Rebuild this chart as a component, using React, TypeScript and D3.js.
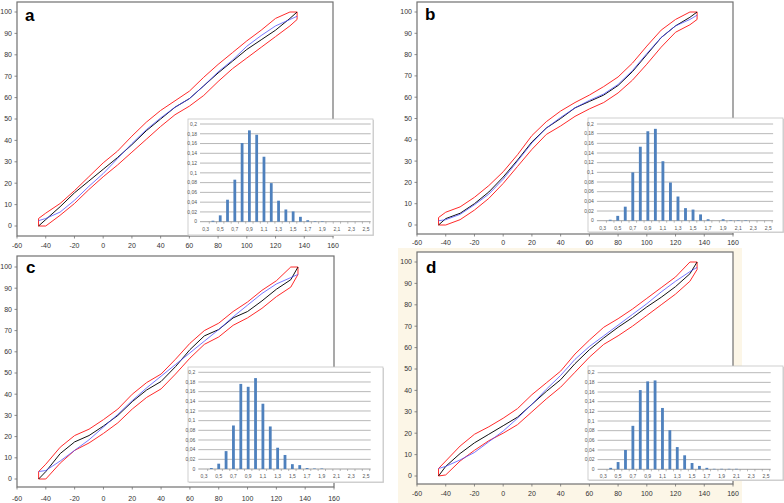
import React from 'react';
import * as d3 from 'd3';

const XS = [-45, -40, -30, -20, -10, 0, 10, 20, 30, 40, 50, 60, 70, 80, 90, 100, 110, 120, 130, 135];
const X_TICKS = [-60, -40, -20, 0, 20, 40, 60, 80, 100, 120, 140, 160];
const Y_TICKS = [0, 10, 20, 30, 40, 50, 60, 70, 80, 90, 100];

const A_BLACK = [0, 3, 9, 15.5, 21, 26.5, 32, 38, 44.5, 50, 55.5, 59.5, 65.5, 71.5, 77, 82.5, 87, 91.5, 97, 100];
const A_BLUE = [2.5, 3.5, 6.5, 12, 18.5, 24.5, 31.5, 38.5, 45, 50.5, 55.5, 59.5, 65.5, 72, 77.5, 84, 89, 93.5, 96.5, 98];
const A_RED_UP = [3.5, 6, 10.5, 16.5, 23, 29.5, 35, 42, 48.5, 54, 58.5, 63, 69.5, 75.5, 81, 86.5, 91.5, 97, 100, 100];
const A_RED_LO = [0, 0, 5, 10.5, 17, 23, 28.5, 34.5, 40.5, 46.5, 52, 56, 61, 67.5, 73.5, 78.5, 83.5, 88.5, 93.5, 96.5];

const B_BLACK = [0, 3, 5.5, 10, 15.5, 22.5, 30.5, 39, 45.5, 50, 55, 58, 61, 65.5, 72, 80, 88, 93.5, 97.5, 100];
const B_BLUE = [2, 2.5, 5, 9.5, 14.5, 21.5, 30, 38.5, 45.5, 50.5, 55, 58.5, 61.5, 66, 72.5, 80.5, 88, 93.5, 96.5, 98.5];
const B_RED_UP = [3.5, 6, 8.5, 13, 18.5, 25, 33, 42, 48.5, 53.5, 57.5, 61, 65, 69.5, 76, 84, 91.5, 96.5, 100, 100];
const B_RED_LO = [0, 0, 2.5, 7, 12.5, 19.5, 27.5, 35.5, 42.5, 46.5, 51, 54.5, 57.5, 62, 68, 75.5, 83.5, 90.5, 94, 96.5];

const C_BLACK = [0, 3.5, 12, 17.5, 20.5, 25, 30, 36.5, 42, 46, 53, 61, 67.5, 70.5, 76, 79, 84, 89.5, 94, 100];
const C_BLUE = [3.5, 4, 8.5, 13.5, 18.5, 24.5, 30.5, 37, 43, 48.5, 54, 59.5, 65, 70.5, 76.5, 82, 87.5, 92, 95, 96.5];
const C_RED_UP = [3.5, 7, 15, 20.5, 23.5, 28, 33, 40, 45.5, 49.5, 56.5, 64, 70, 73.5, 79, 83.5, 89, 93.5, 100, 100];
const C_RED_LO = [0, 0, 7.5, 13.5, 17, 21.5, 26.5, 33, 38.5, 42.5, 49.5, 57, 63.5, 67, 72.5, 76, 80.5, 86, 90.5, 96.5];

const D_BLACK = [0, 4.5, 10.5, 15.5, 19.5, 23.5, 27.5, 33.5, 39.5, 45, 52.5, 59, 64.5, 69.5, 74, 79, 83.5, 88.5, 94.5, 100];
const D_BLUE = [3.5, 4.5, 7.5, 11, 16, 21, 27, 33.5, 40.5, 47, 54.5, 60.5, 65.5, 70.5, 75.5, 80.5, 86, 91, 95.5, 97.5];
const D_RED_UP = [3.5, 7, 14, 19.5, 23, 27, 31.5, 38, 43.5, 49, 57, 63.5, 69.5, 73.5, 78, 83, 88, 93, 100, 100];
const D_RED_LO = [0, 0.5, 7, 12, 16.5, 20, 24, 30, 36, 41.5, 48.5, 55.5, 61.5, 65.5, 70, 75, 80, 85, 91, 96.5];

const BIN_LABELS = ['0,3', '0,4', '0,5', '0,6', '0,7', '0,8', '0,9', '1', '1,1', '1,2', '1,3', '1,4', '1,5', '1,6', '1,7', '1,8', '1,9', '2', '2,1', '2,2', '2,3', '2,4', '2,5'];
const HIST_TICKS = [0, 0.02, 0.04, 0.06, 0.08, 0.1, 0.12, 0.14, 0.16, 0.18, 0.2];
const HIST_TICK_LABELS = ['0', '0,02', '0,04', '0,06', '0,08', '0,1', '0,12', '0,14', '0,16', '0,18', '0,2'];

const A_HIST = [0, 0.002, 0.013, 0.045, 0.086, 0.161, 0.187, 0.178, 0.133, 0.079, 0.043, 0.025, 0.021, 0.01, 0.003, 0.001, 0.001, 0, 0, 0, 0, 0, 0];
const B_HIST = [0, 0.002, 0.01, 0.029, 0.1, 0.153, 0.185, 0.19, 0.123, 0.079, 0.05, 0.026, 0.023, 0.013, 0.003, 0, 0.003, 0.001, 0.001, 0.001, 0, 0, 0];
const C_HIST = [0, 0.002, 0.011, 0.037, 0.09, 0.176, 0.17, 0.188, 0.135, 0.088, 0.044, 0.029, 0.01, 0.008, 0.002, 0.001, 0.001, 0, 0, 0, 0, 0, 0];
const D_HIST = [0, 0.003, 0.015, 0.04, 0.09, 0.164, 0.182, 0.184, 0.127, 0.081, 0.046, 0.029, 0.013, 0.007, 0.003, 0.001, 0.001, 0.001, 0.001, 0, 0, 0, 0];

const PANELS = [
  {
    id: 'a', black: A_BLACK, blue: A_BLUE, redUp: A_RED_UP, redLo: A_RED_LO, hist: A_HIST,
    frame: { l: 17, t: 2, r: 333, b: 236 }, y0: 226, y100: 12, xLabY: 247.5, letter: { x: 25, y: 21 },
    inset: { x: 188, y: 119, w: 185, h: 116, l: 202, r: 369.7, top: 124, bot: 221.7 },
  },
  {
    id: 'b', black: B_BLACK, blue: B_BLUE, redUp: B_RED_UP, redLo: B_RED_LO, hist: B_HIST,
    frame: { l: 417, t: 2, r: 733, b: 234 }, y0: 225, y100: 12, xLabY: 244.5, letter: { x: 425, y: 20 },
    inset: { x: 588, y: 118, w: 195, h: 114, l: 598.9, r: 772.1, top: 124, bot: 220.7 },
  },
  {
    id: 'c', black: C_BLACK, blue: C_BLUE, redUp: C_RED_UP, redLo: C_RED_LO, hist: C_HIST,
    frame: { l: 17, t: 256, r: 334, b: 487 }, y0: 479, y100: 267, xLabY: 500.5, letter: { x: 26, y: 273 },
    inset: { x: 188, y: 367, w: 195, h: 115, l: 200.3, r: 369.7, top: 372.3, bot: 469 },
  },
  {
    id: 'd', black: D_BLACK, blue: D_BLUE, redUp: D_RED_UP, redLo: D_RED_LO, hist: D_HIST,
    frame: { l: 417, t: 252, r: 733, b: 484 }, y0: 476, y100: 262, xLabY: 495.5, letter: { x: 426, y: 273 },
    inset: { x: 588, y: 366, w: 195, h: 114, l: 599.6, r: 769.7, top: 372.7, bot: 469.3 },
  },
];

const FONT = '"Liberation Sans", Arial, sans-serif';

function Panel({ p }: { p: (typeof PANELS)[number] }) {
  const f = p.frame;
  const xs = d3.scaleLinear().domain([-60, 160]).range([f.l, f.r]);
  const ys = d3.scaleLinear().domain([0, 100]).range([p.y0, p.y100]);
  const line = d3.line<number>().x((_, i) => xs(XS[i])).y((d) => ys(d));
  const ptLine = d3.line<[number, number]>().x((d) => xs(d[0])).y((d) => ys(d[1]));
  const band: [number, number][] = [
    ...XS.map((x, i) => [x, p.redUp[i]] as [number, number]),
    ...XS.map((x, i) => [x, p.redLo[i]] as [number, number]).reverse(),
  ];
  const ins = p.inset;
  const bx = d3.scaleBand<string>().domain(BIN_LABELS).range([ins.l, ins.r]).paddingInner(0.62).paddingOuter(0.31);
  const hy = d3.scaleLinear().domain([0, 0.2]).range([ins.bot, ins.top]);
  const step = bx.step();
  const bandStart = ins.l;
  return (
    <g>
      <rect x={f.l} y={f.t} width={f.r - f.l} height={f.b - f.t} fill="#fff" />
      <path d={(ptLine(band) || '') + 'Z'} fill="none" stroke="#ff2a2a" strokeWidth={1} />
      <path d={line(p.black) || ''} fill="none" stroke="#111" strokeWidth={1} />
      <path d={line(p.blue) || ''} fill="none" stroke="#4a4aff" strokeWidth={1} strokeOpacity={0.75} />
      <rect x={f.l} y={f.t} width={f.r - f.l} height={f.b - f.t} fill="none" stroke="#707070" strokeWidth={1.2} />
      {Y_TICKS.map((t) => (
        <g key={'y' + t}>
          <line x1={f.l - 2.5} x2={f.l} y1={ys(t)} y2={ys(t)} stroke="#707070" strokeWidth={0.8} />
          <text x={f.l - 5} y={ys(t)} dy="0.35em" textAnchor="end" fontSize={7} fill="#333" fontFamily={FONT}>{t}</text>
        </g>
      ))}
      {X_TICKS.map((t) => (
        <g key={'x' + t}>
          <line x1={xs(t)} x2={xs(t)} y1={f.b} y2={f.b + 2.5} stroke="#707070" strokeWidth={0.8} />
          <text x={xs(t)} y={p.xLabY} textAnchor="middle" fontSize={7} fill="#333" fontFamily={FONT}>{t}</text>
        </g>
      ))}
      <text x={p.letter.x} y={p.letter.y} fontSize={17} fontWeight="bold" fill="#000" fontFamily={FONT}>{p.id}</text>
      <g>
        <rect x={ins.x + 1} y={ins.y + 1} width={ins.w} height={ins.h} fill="#d8d8d8" />
        <rect x={ins.x} y={ins.y} width={ins.w} height={ins.h} fill="#fff" stroke="#c4c4c4" strokeWidth={0.8} />
        {HIST_TICKS.map((t, i) => (
          <g key={'h' + i}>
            <line x1={ins.l - 2} x2={ins.r + 1} y1={hy(t)} y2={hy(t)} stroke={i === 0 ? '#8c8c8c' : '#a6a6a6'} strokeWidth={0.8} />
            <text x={ins.l - 5} y={hy(t)} dy="0.35em" textAnchor="end" fontSize={5} fill="#555" fontFamily={FONT}>{HIST_TICK_LABELS[i]}</text>
          </g>
        ))}
        {BIN_LABELS.map((c, i) => (
          <line key={'bt' + i} x1={bandStart + step * (i + 1)} x2={bandStart + step * (i + 1)} y1={ins.bot} y2={ins.bot + 2} stroke="#8c8c8c" strokeWidth={0.6} />
        ))}
        {BIN_LABELS.map((c, i) => (
          <rect key={'bar' + i} x={bx(c)} y={hy(p.hist[i])} width={bx.bandwidth()} height={ins.bot - hy(p.hist[i])} fill="#4f81bd" />
        ))}
        {BIN_LABELS.map((c, i) =>
          i % 2 === 0 ? (
            <text key={'bl' + i} x={(bx(c) || 0) + bx.bandwidth() / 2} y={ins.bot + 9} textAnchor="middle" fontSize={5} fill="#555" fontFamily={FONT}>{c}</text>
          ) : null
        )}
      </g>
    </g>
  );
}

export default function App() {
  return (
    <svg width={784} height={503} style={{ position: 'absolute', left: 0, top: 0, background: '#fff' }}>
      <rect x={0} y={0} width={784} height={503} fill="#fff" />
      <rect x={398} y={248} width={344} height={255} fill="#fcf6e7" />
      {PANELS.map((p) => (
        <Panel key={p.id} p={p} />
      ))}
    </svg>
  );
}
